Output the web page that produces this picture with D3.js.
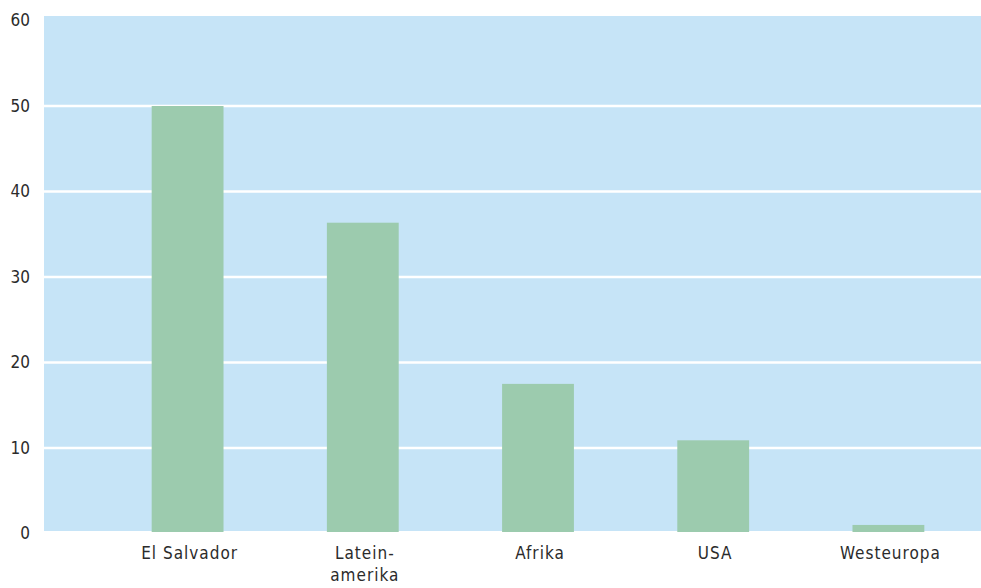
<!DOCTYPE html>
<html>
<head>
<meta charset="utf-8">
<script src="https://cdn.jsdelivr.net/npm/d3@7"></script>
<style>
  body { margin: 0; background: #fff; }
  text { font-family: "DejaVu Sans Condensed", "DejaVu Sans", sans-serif; fill: #2b2b2b; }
</style>
</head>
<body>
<script>
var w = 981;
var h = 588;

var categories = ["El Salvador", "Latein-\namerika", "Afrika", "USA", "Westeuropa"];
var values = [50, 36.35, 17.5, 10.9, 1.0];
var yTicks = [0, 10, 20, 30, 40, 50, 60];

var svg = d3.select("body").append("svg").attr("width", w).attr("height", h);

var x = d3.scaleBand()
    .domain(categories)
    .range([100, 976])
    .paddingInner(0.59)
    .paddingOuter(0.295);

var y = d3.scaleLinear()
    .domain([0, 60])
    .range([533.5, 20.5]);

var base = 531;

// plot background
svg.append("rect")
    .attr("x", 44)
    .attr("y", 16)
    .attr("width", w - 44)
    .attr("height", base - 16)
    .attr("fill", "#c6e4f7");

// grid lines
svg.selectAll("line.grid")
    .data(yTicks.filter(function (d) { return d > 0 && d < 60; }))
    .enter()
    .append("line")
    .attr("class", "grid")
    .attr("x1", 44)
    .attr("x2", w)
    .attr("y1", function (d) { return y(d); })
    .attr("y2", function (d) { return y(d); })
    .attr("stroke", "#fff")
    .attr("stroke-width", 2.6);

// bars
svg.selectAll("rect.bar")
    .data(values)
    .enter()
    .append("rect")
    .attr("class", "bar")
    .attr("x", function (d, i) { return x(categories[i]); })
    .attr("width", x.bandwidth())
    .attr("y", function (d) { return y(d); })
    .attr("height", function (d) { return base + 1 - y(d); })
    .attr("fill", "#9ccbae");

// y axis labels
var yAxis = d3.axisLeft(y).tickValues(yTicks).tickSize(0).tickPadding(0);
var gy = svg.append("g").attr("transform", "translate(30,0)").call(yAxis);
gy.select(".domain").remove();
gy.selectAll("text")
    .style("font-size", "17px")
    .attr("fill", "#2b2b2b")
    .style("font-family", '"DejaVu Sans Condensed", "DejaVu Sans", sans-serif');

// x labels
var xl = svg.selectAll("text.xl")
    .data(categories)
    .enter()
    .append("text")
    .attr("class", "xl")
    .attr("text-anchor", "middle")
    .attr("x", function (d) { return x(d) + x.bandwidth() / 2 + 2; })
    .attr("y", 559)
    .style("font-size", "17px")
    .style("letter-spacing", "1px");

xl.selectAll("tspan")
    .data(function (d) { return d.split("\n"); })
    .enter()
    .append("tspan")
    .attr("x", function () { return d3.select(this.parentNode).attr("x"); })
    .attr("dy", function (d, i) { return i === 0 ? 0 : 22; })
    .text(function (d) { return d; });
</script>
</body>
</html>
